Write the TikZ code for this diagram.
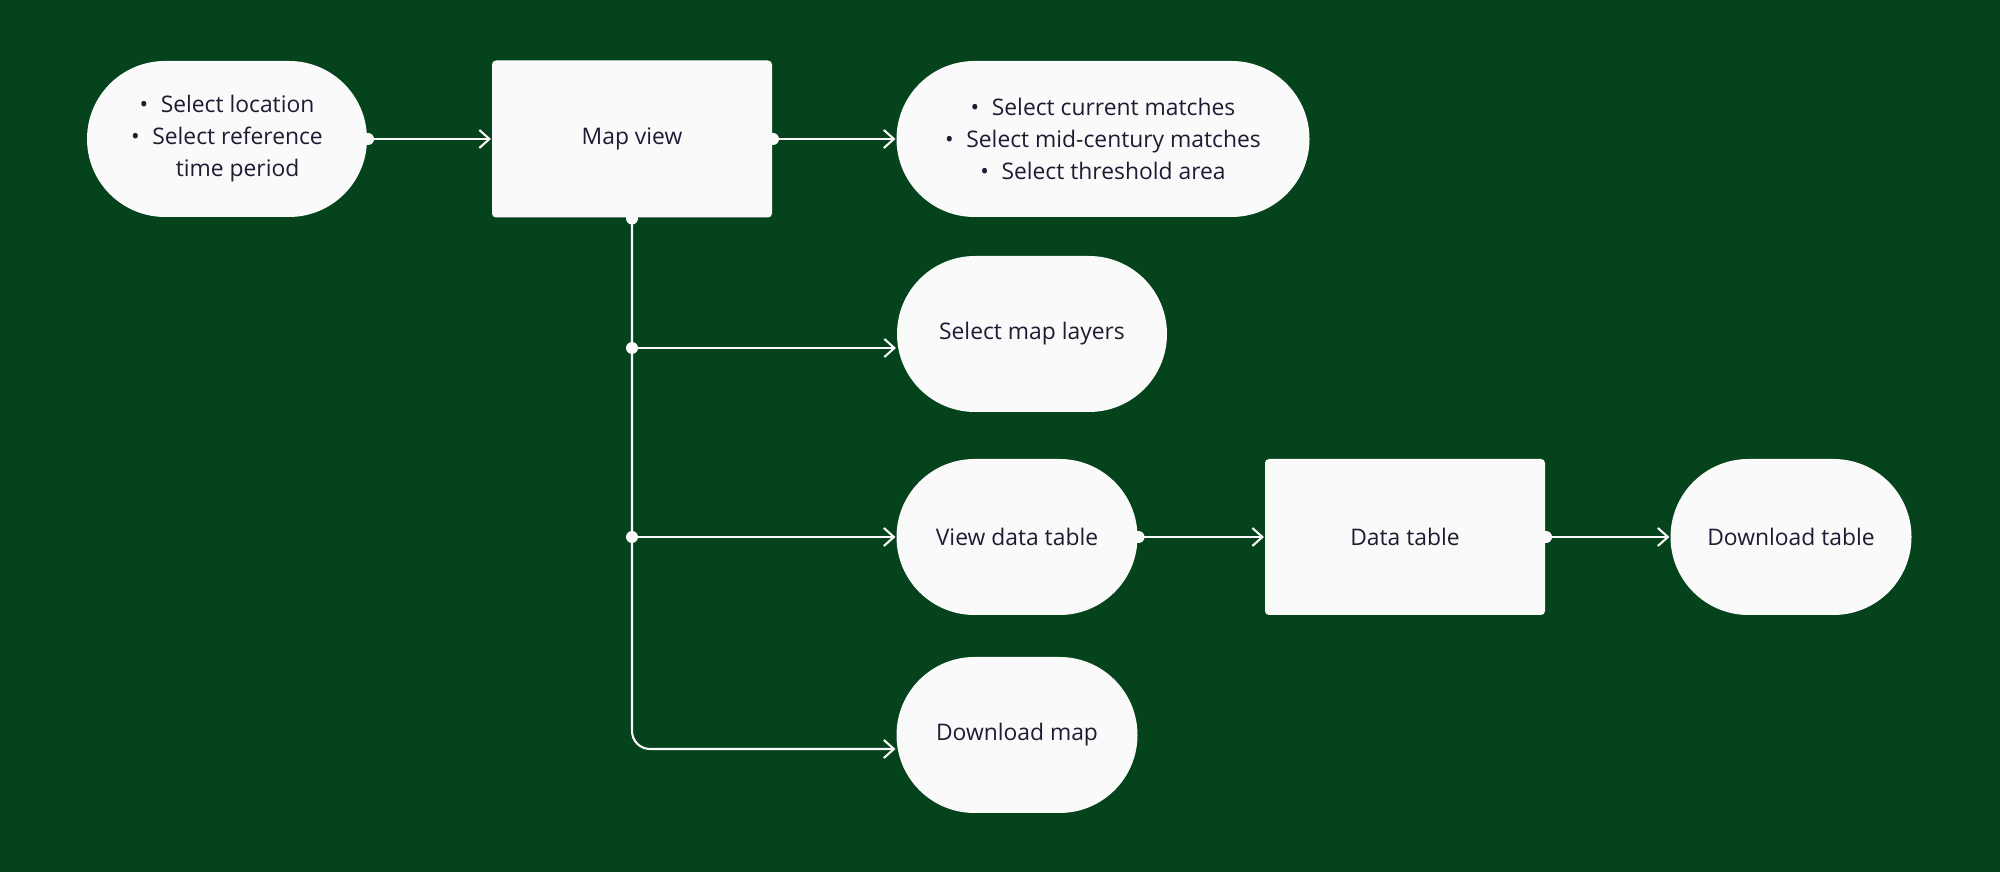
\documentclass[tikz,border=0pt]{standalone}
\usepackage{fontspec}
\setmainfont{Open Sans}
\usetikzlibrary{math, calc, arrows.meta}

\definecolor{bggreen}{HTML}{05431C}
\definecolor{paper}{HTML}{FAFAFA}
\definecolor{ink}{HTML}{1E1C32}

\newcommand{\itm}[1]{\textbullet\hspace{0.55em}#1}
\newcommand{\noitm}[1]{\hphantom{\textbullet\hspace{0.55em}}#1}

\begin{document}
\begin{tikzpicture}[
    line width=1.2pt,
    pill/.style={rectangle, rounded corners=1.56cm, minimum height=3.12cm,
        fill=paper, text=ink, align=center, inner sep=0pt,
        font=\fontsize{13}{18.2}\selectfont},
    box/.style={rectangle, rounded corners=0.08cm, minimum width=5.6cm, minimum height=3.14cm,
        fill=paper, text=ink, align=center, inner sep=0pt,
        font=\fontsize{13}{18.2}\selectfont},
    link/.style={draw=paper, -{Straight Barb[length=0.2cm, width=0.36cm]}},
    dot/.style={fill=paper},
]
    \tikzmath{
        \figwidth=40;
        \figheight=17.44;
        \toprow=14.66;
        \dotr=0.12;
        \drop=0.28;
    }

    \coordinate (O) at (0, 0);
    \fill [bggreen] (O) rectangle (\figwidth, \figheight);
    \useasboundingbox (O) rectangle (\figwidth, \figheight);

    % nodes
    \node [pill, minimum width=5.6cm] (loc) at (4.54, \toprow)
    {\itm{Select location}\\ \itm{Select reference}\\ \noitm{time period}};
    \node [box] (mapview) at (12.64, \toprow) {Map view};
    \node [pill, minimum width=8.26cm] (matches) at (22.06, \toprow)
    {\itm{Select current matches}\\ \itm{Select mid-century matches}\\ \itm{Select threshold area}};
    \node [pill, minimum width=5.4cm] (layers) at (20.64, 10.76) {Select map layers};
    \node [pill, minimum width=4.82cm] (viewtable) at (20.34, 6.7) {View data table};
    \node [box, minimum height=3.12cm] (datatable) at (28.1, 6.7) {Data table};
    \node [pill, minimum width=4.82cm] (dltable) at (35.82, 6.7) {Download table};
    \node [pill, minimum width=4.82cm] (dlmap) at (20.34, 2.74) {Download map};

    % junctions on the trunk
    \coordinate (jlayers) at ($ (mapview.south |- layers.west) + (0, -\drop) $);
    \coordinate (jview) at (mapview.south |- viewtable.west);

    % arrows
    \draw [link] (loc.east) -- (mapview.west);
    \draw [link] (mapview.east) -- (matches.west);
    \draw [link, rounded corners=0.36cm] (mapview.south) |- ($ (dlmap.west) + (0, -\drop) $);
    \draw [link] (jlayers) -- ($ (layers.west) + (0, -\drop) $);
    \draw [link] (jview) -- (viewtable.west);
    \draw [link] (viewtable.east) -- (datatable.west);
    \draw [link] (datatable.east) -- (dltable.west);

    % dots
    \foreach \p in {loc.east, mapview.east, mapview.south, jlayers, jview, viewtable.east, datatable.east}
        \fill [dot] (\p) circle (\dotr);
\end{tikzpicture}
\end{document}
